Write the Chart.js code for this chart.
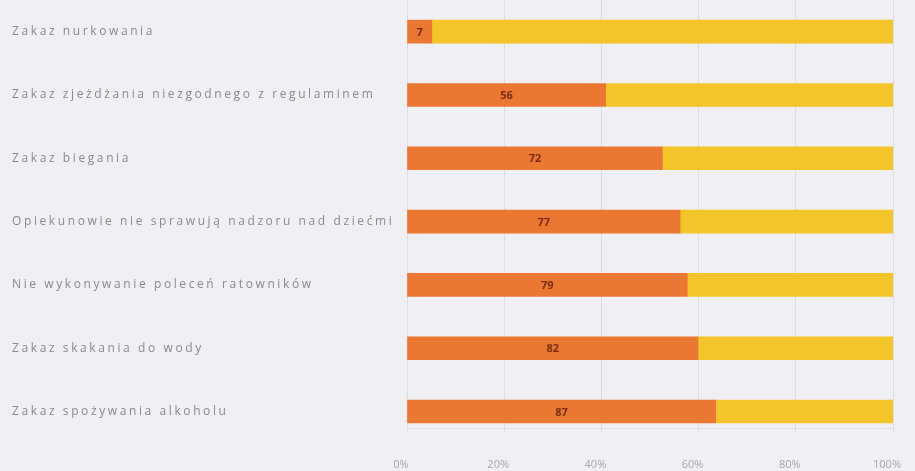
<!DOCTYPE html>
<html lang="pl">
<head>
<meta charset="utf-8">
<script src="https://cdn.jsdelivr.net/npm/chart.js@4.4.1/dist/chart.umd.min.js"></script>
<style>
  html, body { margin: 0; padding: 0; background: #f0eff3; }
  #wrap { width: 915px; height: 471px; }
</style>
</head>
<body>
<div id="wrap"><canvas id="c" width="915" height="471"></canvas></div>
<script>
// Categories (top to bottom)
const categories = [
  'Zakaz nurkowania',
  'Zakaz zjeżdżania niezgodnego z regulaminem',
  'Zakaz biegania',
  'Opiekunowie nie sprawują nadzoru nad dziećmi',
  'Nie wykonywanie poleceń ratowników',
  'Zakaz skakania do wody',
  'Zakaz spożywania alkoholu'
];
// Counts of answers per category
const countsYes = [7, 56, 72, 77, 79, 82, 87];
const countsNo = [130, 81, 65, 60, 58, 55, 50];
// Percent axis ticks
const percentTicks = [0, 20, 40, 60, 80, 100];

// 100% stacked shares built from the counts
const shareOf = (a, b) => a.map((v, i) => v / (v + b[i]) * 100);
const shareYes = shareOf(countsYes, countsNo);
const shareNo = shareOf(countsNo, countsYes);

const toPoints = arr => arr.map((x, i) => ({ x: x, y: i }));

const bgPlugin = {
  id: 'bg',
  beforeDraw(chart) {
    const ctx = chart.ctx;
    ctx.save();
    ctx.fillStyle = '#f0eff3';
    ctx.fillRect(0, 0, chart.width, chart.height);
    ctx.restore();
    // wide tracking for the category labels
    ctx.letterSpacing = '2.6px';
  },
  beforeDatasetsDraw(chart) {
    chart.ctx.letterSpacing = '0px';
  }
};

// value labels centred on the orange segments
const valueLabels = {
  id: 'valueLabels',
  afterDatasetsDraw(chart) {
    const ctx = chart.ctx;
    const meta = chart.getDatasetMeta(0);
    ctx.save();
    ctx.letterSpacing = '0px';
    ctx.font = 'bold 11px "Open Sans", sans-serif';
    ctx.fillStyle = '#7a2d17';
    ctx.textAlign = 'center';
    ctx.textBaseline = 'middle';
    meta.data.forEach((bar, i) => {
      const p = bar.getProps(['x', 'y', 'base'], true);
      ctx.fillText(String(countsYes[i]), (p.x + p.base) / 2, p.y + 1);
    });
    ctx.restore();
  }
};

new Chart(document.getElementById('c'), {
  type: 'bar',
  data: {
    datasets: [
      {
        label: 'Tak',
        data: toPoints(shareYes),
        backgroundColor: '#eb7832',
        borderWidth: 0,
        barThickness: 23
      },
      {
        label: 'Nie',
        data: toPoints(shareNo),
        backgroundColor: '#f4c52a',
        borderWidth: 0,
        barThickness: 23
      }
    ]
  },
  options: {
    indexAxis: 'y',
    responsive: false,
    animation: false,
    layout: { padding: { left: 12, right: 22, top: 0, bottom: 0 } },
    plugins: {
      legend: { display: false },
      tooltip: { enabled: false }
    },
    scales: {
      x: {
        type: 'linear',
        stacked: true,
        min: 0,
        max: 100,
        afterBuildTicks(scale) {
          scale.ticks = percentTicks.map(v => ({ value: v }));
        },
        afterFit(scale) {
          scale.height = 43;
          scale.paddingLeft = 0;
          scale.paddingRight = 0;
        },
        grid: { color: '#dddce2', lineWidth: 1, tickLength: 5, drawTicks: true },
        border: { display: true, color: '#e2e1e6' },
        ticks: {
          z: 1,
          padding: 25,
          labelOffset: -6,
          color: '#a7a7ab',
          font: { family: '"Open Sans", sans-serif', size: 11 },
          callback: v => v + '%'
        }
      },
      y: {
        type: 'linear',
        stacked: true,
        reverse: true,
        offset: false,
        min: -0.5,
        max: 6.26,
        afterBuildTicks(scale) {
          scale.ticks = categories.map((c, i) => ({ value: i }));
        },
        afterFit(scale) {
          scale.width = 395;
          scale.paddingTop = 0;
          scale.paddingBottom = 0;
        },
        grid: { display: false },
        border: { display: true, color: '#dddce2' },
        ticks: {
          crossAlign: 'far',
          color: '#8a8a8e',
          font: { family: '"Open Sans", sans-serif', size: 12 },
          callback: v => categories[v]
        }
      }
    }
  },
  plugins: [bgPlugin, valueLabels]
});
</script>
</body>
</html>
